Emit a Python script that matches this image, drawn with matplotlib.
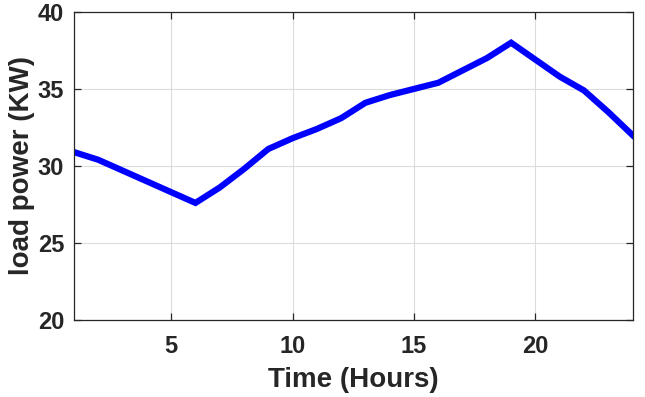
import matplotlib
matplotlib.use("Agg")
import matplotlib.pyplot as plt

# hourly load profile
hours = list(range(1, 25))
load_kw = [30.9, 30.4, 29.7, 29.0, 28.3, 27.6, 28.6, 29.8, 31.1, 31.8, 32.4, 33.1,
           34.1, 34.6, 35.0, 35.4, 36.2, 37.0, 38.0, 36.9, 35.8, 34.9, 33.5, 32.0]
x_ticks = [5, 10, 15, 20]
y_ticks = [20, 25, 30, 35, 40]

plt.rcParams['font.family'] = ['Liberation Sans', 'DejaVu Sans']
plt.rcParams['font.weight'] = 'bold'

fig = plt.figure(figsize=(6.45, 3.97), dpi=100)
ax = fig.add_axes([0.1147, 0.194, 0.866, 0.776])

ax.plot(hours, load_kw, color='#0000ff', linewidth=4.5, solid_joinstyle='miter')

ax.set_xlim(1, 24)
ax.set_ylim(20, 40)
ax.set_xticks(x_ticks)
ax.set_yticks(y_ticks)
ax.grid(True, color='#dcdcdc', linewidth=0.8)
ax.set_axisbelow(True)

for s in ax.spines.values():
    s.set_color('#262626')
    s.set_linewidth(0.9)
ax.tick_params(direction='in', top=True, right=True, length=5, width=0.9,
               color='#262626', labelsize=17, labelcolor='#262626')
ax.tick_params(axis='x', pad=11)
ax.tick_params(axis='y', pad=7)
for lbl in ax.get_xticklabels() + ax.get_yticklabels():
    lbl.set_fontweight('bold')

ax.set_xlabel('Time (Hours)', fontsize=20, fontweight='bold', color='#262626', labelpad=6)
ax.set_ylabel('load power (KW)', fontsize=20, fontweight='bold', color='#262626', labelpad=2)

fig.savefig('out.png', dpi=100, facecolor='white')
